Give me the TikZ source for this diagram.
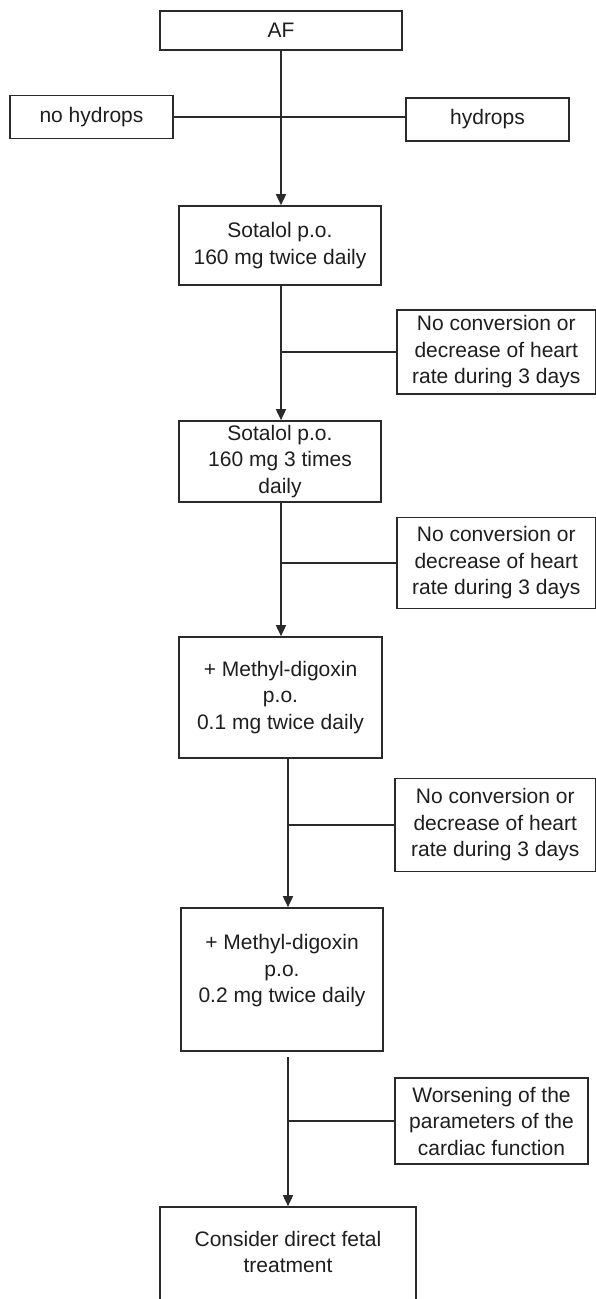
\documentclass[tikz,border=0pt]{standalone}
\usepackage{fontspec}
\setmainfont{Liberation Sans}
\usetikzlibrary{arrows.meta}
\definecolor{ink}{HTML}{1E1E1E}
\definecolor{linec}{HTML}{2A2A2A}
\tikzset{
  box/.style={draw=linec, line width=1.7pt, inner sep=0pt, align=center, text=ink,
    font=\fontsize{21}{26.5}\selectfont},
  txt/.style={inner sep=0pt, align=center, text=ink, font=\fontsize{21}{26.5}\selectfont},
  conn/.style={draw=linec, line width=1.7pt},
  arr/.style={conn, -{Triangle[width=10pt,length=11pt]}}
}
\begin{document}
\begin{tikzpicture}[x=1pt,y=-1pt]
\useasboundingbox (0,0) rectangle (596,1299);
\clip (0,0) rectangle (596,1299);
\fill[white] (0,0) rectangle (596,1299);
% boxes
\node[box, minimum width=242, minimum height=39] (af) at (281,30.5) {AF};
\node[box, minimum width=163, minimum height=43] (noh) at (91.5,117) {no hydrops};
\node[box, minimum width=163, minimum height=43] (hyd) at (487.5,119.5) {hydrops};
\node[box, minimum width=202, minimum height=79] (s1) at (280,245.5) {Sotalol p.o.\\160 mg twice daily};
\node[box, minimum width=198.5, minimum height=84] (c1) at (496.25,352) {No conversion or\\decrease of heart\\rate during 3 days};
\node[box, minimum width=202, minimum height=81] (s2) at (280,461.5) {Sotalol p.o.\\160 mg 3 times\\daily};
\node[box, minimum width=198.5, minimum height=91] (c2) at (496.25,563) {No conversion or\\decrease of heart\\rate during 3 days};
\node[box, minimum width=203, minimum height=121] (m1) at (280.5,697.5) {+ Methyl-digoxin\\p.o.\\0.1 mg twice daily};
\node[box, minimum width=200.5, minimum height=93] (c3) at (495.25,825) {No conversion or\\decrease of heart\\rate during 3 days};
\node[box, minimum width=202, minimum height=143] (m2) at (282,979.5) {};
\node[txt] (m2t) at (282,971) {+ Methyl-digoxin\\p.o.\\0.2 mg twice daily};
\node[box, minimum width=193, minimum height=86] (c4) at (491.5,1121) {Worsening of the\\parameters of the\\cardiac function};
\node[box, minimum width=256, minimum height=103] (fin) at (288,1258.5) {};
\node[txt] (fint) at (288,1252) {Consider direct fetal\\treatment};
% trunk coordinates
\coordinate (tx) at (288,0);
\coordinate (t1) at (281,0);
\coordinate (gap) at (288,1057);
% connectors
\draw[conn] (noh.east) -- (noh.east -| hyd.west);
\draw[arr] (af.south -| t1) -- (s1.north -| t1);
\draw[arr] (s1.south -| t1) -- (s2.north -| t1);
\draw[conn] (c1.west) -- (c1.west -| t1);
\draw[arr] (s2.south -| t1) -- (m1.north -| t1);
\draw[conn] (c2.west) -- (c2.west -| t1);
\draw[arr] (m1.south -| tx) -- (m2.north -| tx);
\draw[conn] (c3.west) -- (c3.west -| tx);
\draw[arr] (gap) -- (fin.north -| gap);
\draw[conn] (c4.west) -- (c4.west -| gap);
\end{tikzpicture}
\end{document}
